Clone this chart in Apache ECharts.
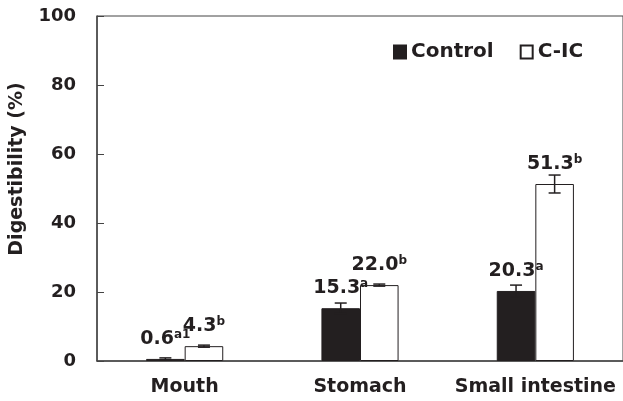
<!DOCTYPE html>
<html><head><meta charset="utf-8">
<script src="https://cdn.jsdelivr.net/npm/echarts@6/dist/echarts.min.js"></script>
<style>html,body{margin:0;padding:0;background:#fff}#c{width:623px;height:401px}</style>
</head><body><div id="c"></div>
<script>
const categories = ['Mouth', 'Stomach', 'Small intestine'];
const controlValues = [0.6, 15.3, 20.3];
const controlErrors = [0.3, 1.5, 1.7];
const controlSup = ['a1', 'a', 'a'];
const cicValues = [4.3, 22.0, 51.3];
const cicErrors = [0.3, 0.3, 2.6];
const cicSup = ['b', 'b', 'b'];
const yTicks = [0, 20, 40, 60, 80, 100];

const FONT = '"DejaVu Sans", sans-serif';
const INK = '#231f20';
const BAR_FRAC = 0.22;

function labelFor(vals, sups) {
  return function (p) {
    return '{v|' + vals[p.dataIndex].toFixed(1) + '}{s|' + sups[p.dataIndex] + '}';
  };
}
const rich = {
  v: { fontSize: 19, fontWeight: 'bold', fontFamily: FONT, color: INK, lineHeight: 20 },
  s: { fontSize: 12, fontWeight: 'bold', fontFamily: FONT, color: INK, lineHeight: 12, verticalAlign: 'top' }
};

const errData = [];
controlValues.forEach((v, i) => errData.push([i, v, controlErrors[i], 0]));
cicValues.forEach((v, i) => errData.push([i, v, cicErrors[i], 1]));

const chart = echarts.init(document.getElementById('c'));
chart.setOption({
  animation: false,
  backgroundColor: '#fff',
  grid: { left: 97, right: -6, top: 16, bottom: 40, show: true, borderColor: '#444', borderWidth: 1 },
  legend: {
    data: ['Control', 'C-IC'], left: 388, top: 37, itemWidth: 12, itemHeight: 13, itemGap: 26, icon: 'rect',
    textStyle: { fontSize: 20, fontWeight: 'bold', fontFamily: FONT, color: INK }
  },
  xAxis: {
    type: 'category', data: categories,
    axisLine: { lineStyle: { color: '#444', width: 1.5 } },
    axisTick: { inside: true, length: 7, lineStyle: { color: '#444' } },
    axisLabel: { interval: 0, fontSize: 19, fontWeight: 'bold', fontFamily: FONT, color: INK, margin: 17 }
  },
  yAxis: {
    type: 'value', min: 0, max: 100, interval: 20,
    axisLine: { show: true, lineStyle: { color: '#444', width: 1.5 } },
    axisTick: { show: true, inside: true, length: 7, lineStyle: { color: '#444' } },
    splitLine: { show: false },
    axisLabel: {
      fontSize: 18, fontWeight: 'bold', fontFamily: FONT, color: INK, margin: 21,
      formatter: v => (yTicks.indexOf(v) >= 0 ? String(v) : '')
    }
  },
  graphic: [{
    type: 'text', x: 17, y: 169, rotation: Math.PI / 2,
    style: { text: 'Digestibility (%)', font: 'bold 19px ' + FONT, fill: INK, textAlign: 'center', textVerticalAlign: 'middle' }
  }],
  series: [
    {
      name: 'Control', type: 'bar', data: controlValues, barWidth: (BAR_FRAC * 100) + '%', barGap: '0%',
      itemStyle: { color: INK, borderColor: INK, borderWidth: 1 },
      label: { show: true, position: 'top', distance: 10, formatter: labelFor(controlValues, controlSup), rich: rich }
    },
    {
      name: 'C-IC', type: 'bar', data: cicValues, barWidth: (BAR_FRAC * 100) + '%',
      itemStyle: { color: '#fff', borderColor: INK, borderWidth: 1 },
      label: { show: true, position: 'top', distance: 10, formatter: labelFor(cicValues, cicSup), rich: rich }
    },
    {
      name: 'err', type: 'custom', data: errData, z: 5,
      encode: { x: 0, y: 1 },
      renderItem: function (params, api) {
        const cat = api.value(0), val = api.value(1), err = api.value(2), s = api.value(3);
        const bw = api.size([1, 0])[0] * BAR_FRAC;
        const top = api.coord([cat, val + err]);
        const bot = api.coord([cat, val - err]);
        const x = top[0] + (s === 0 ? -bw / 2 : bw / 2);
        const cap = 6;
        const st = { stroke: INK, lineWidth: 1.5 };
        return {
          type: 'group', children: [
            { type: 'line', shape: { x1: x, y1: top[1], x2: x, y2: bot[1] }, style: st },
            { type: 'line', shape: { x1: x - cap, y1: top[1], x2: x + cap, y2: top[1] }, style: st },
            { type: 'line', shape: { x1: x - cap, y1: bot[1], x2: x + cap, y2: bot[1] }, style: st }
          ]
        };
      }
    }
  ]
});
</script></body></html>
